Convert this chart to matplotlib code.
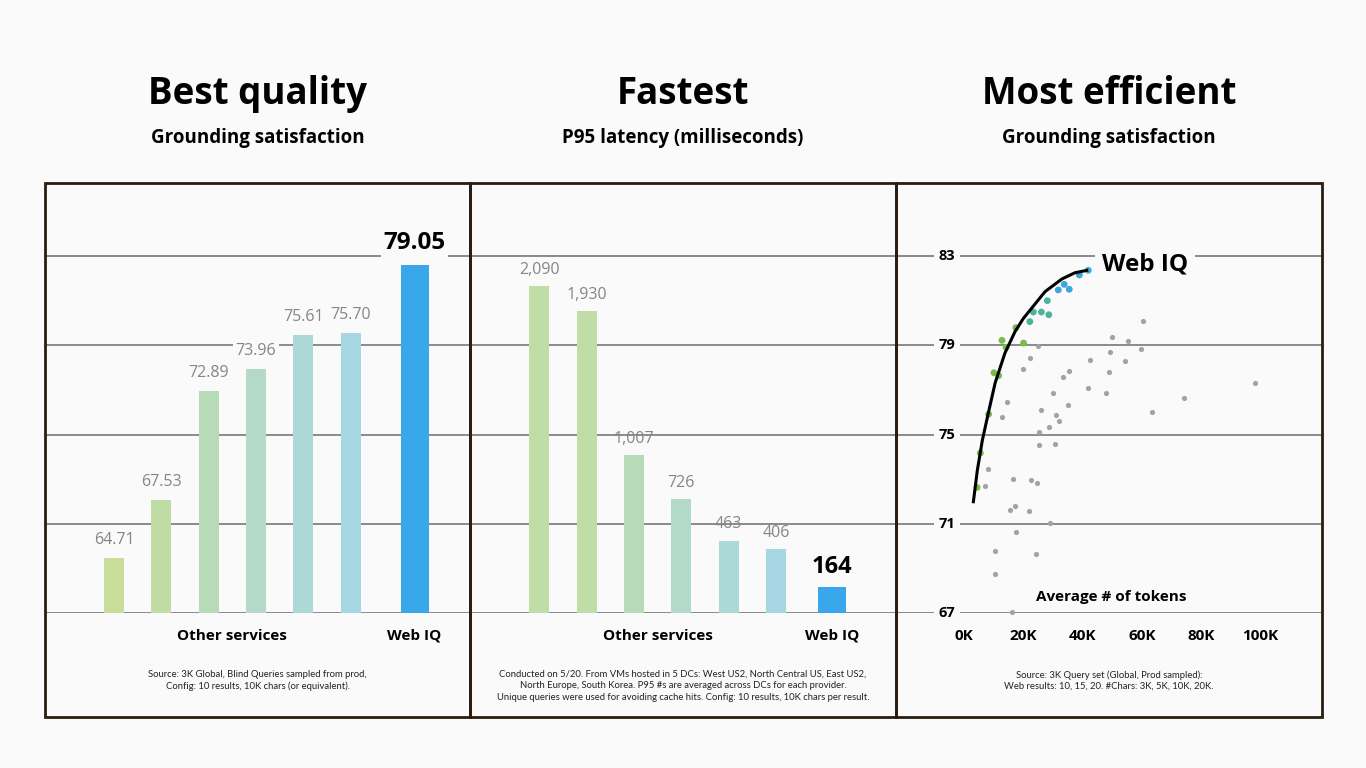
import matplotlib
matplotlib.use("Agg")
import matplotlib.pyplot as plt
from matplotlib.patches import Rectangle
import numpy as np

# ---------------- data ----------------
titles = ["Best quality", "Fastest", "Most efficient"]
subtitles = ["Grounding satisfaction", "P95 latency (milliseconds)", "Grounding satisfaction"]

quality_other = [64.71, 67.53, 72.89, 73.96, 75.61, 75.70]
quality_webiq = 79.05
quality_colors = ["#c8dd9a", "#bfdca5", "#b7dbb8", "#b3d9c8", "#acd8d5", "#a8d7e4"]

latency_other = [2090, 1930, 1007, 726, 463, 406]
latency_webiq = 164
latency_colors = ["#c0dda8", "#c0dda8", "#b7dbb8", "#b3d9c8", "#acd8d5", "#a8d7e4"]
webiq_color = "#38a8ea"

# efficiency scatter: other configurations (K tokens, satisfaction)
other_x = [60.5, 49.8, 55.4, 49.2, 59.6, 25.1, 22.4, 42.6, 54.3, 20.0, 35.5, 49.0, 33.3,
           98.1, 41.9, 30.0, 48.0, 14.6, 74.3, 35.0, 63.3, 26.1, 12.9, 31.1, 32.1, 28.6,
           25.2, 25.3, 30.6, 8.1, 7.1, 16.5, 22.5, 24.5, 15.6, 17.3, 21.8, 29.1, 17.4,
           10.6, 24.4, 10.4, 16.1]
other_y = [80.10, 79.38, 79.19, 78.70, 78.83, 78.95, 78.44, 78.34, 78.31, 77.94, 77.85,
           77.80, 77.58, 77.31, 77.10, 76.86, 76.85, 76.47, 76.62, 76.34, 76.01, 76.10,
           75.80, 75.86, 75.59, 75.32, 75.13, 74.52, 74.57, 73.44, 72.68, 72.99, 72.95,
           72.81, 71.62, 71.80, 71.57, 71.05, 70.62, 69.79, 69.66, 68.76, 67.06]
# Web IQ configurations
webiq_x = [4.4, 5.5, 8.3, 10.1, 11.7, 12.8, 14.2, 17.5, 20.1,
           22.2, 23.4, 26.1, 28.6, 28.1,
           31.8, 33.8, 35.5, 38.9, 41.9]
webiq_y = [72.63, 74.17, 75.91, 77.77, 77.64, 79.22, 78.91, 79.79, 79.10,
           80.06, 80.49, 80.49, 80.37, 81.00,
           81.48, 81.73, 81.51, 82.15, 82.36]
webiq_dot_colors = ["#78bb4a"] * 9 + ["#4db39a"] * 5 + ["#3aa8dc"] * 5
# frontier curve
curve_x = [3.1, 4.5, 6.2, 8.2, 10.5, 13.8, 17.2, 20.0, 22.8, 27.3, 33.0, 37.4, 41.9]
curve_y = [71.92, 73.40, 74.75, 75.96, 77.31, 78.65, 79.61, 80.20, 80.66, 81.40, 81.97, 82.25, 82.37]
eff_yticks = [67, 71, 75, 79, 83]
eff_xticks = [0, 20, 40, 60, 80, 100]

footnotes = [
    "Source: 3K Global, Blind Queries sampled from prod,\nConfig: 10 results, 10K chars (or equivalent).",
    "Conducted on 5/20. From VMs hosted in 5 DCs: West US2, North Central US, East US2,\n"
    "North Europe, South Korea. P95 #s are averaged across DCs for each provider.\n"
    "Unique queries were used for avoiding cache hits. Config: 10 results, 10K chars per result.",
    "Source: 3K Query set (Global, Prod sampled):\nWeb results: 10, 15, 20. #Chars: 3K, 5K, 10K, 20K.",
]

# ---------------- style ----------------
BG = "#fafafa"
GRID = "#8a8a8a"
FRAME = "#2b1c10"
BOLD = ["Open Sans", "DejaVu Sans"]
plt.rcParams["font.family"] = ["Lato", "DejaVu Sans"]

W, H = 1366, 768
fig = plt.figure(figsize=(W / 100, H / 100), dpi=100, facecolor=BG)

def fx(px):
    return px / W

def fy(py):
    return 1 - py / H

panel_left = [45, 470, 896]
panel_right = [470, 896, 1322]
top_px, base_px, bottom_px = 183, 613, 717
grid_px = [613, 524, 435, 345, 256]

# frame
for l, r in zip(panel_left, panel_right):
    fig.patches.append(Rectangle((fx(l), fy(bottom_px)), fx(r - l), (bottom_px - top_px) / H,
                                 transform=fig.transFigure, fill=False, edgecolor=FRAME,
                                 linewidth=2.0, zorder=10))

axes = []
for l, r in zip(panel_left, panel_right):
    ax = fig.add_axes([fx(l), fy(base_px), fx(r - l), (base_px - top_px) / H])
    ax.set_facecolor("none")
    for s in ax.spines.values():
        s.set_visible(False)
    ax.set_xticks([])
    ax.set_yticks([])
    axes.append(ax)

# titles
for i, (l, r) in enumerate(zip(panel_left, panel_right)):
    cx = fx((l + r) / 2)
    fig.text(cx, fy(94), titles[i], ha="center", va="center", fontsize=26.5,
             fontweight="bold", family=BOLD, color="#000000")
    fig.text(cx, fy(137.5), subtitles[i], ha="center", va="center", fontsize=13.5,
             fontweight="bold", family=BOLD, color="#000000")
    fig.text(cx, fy(670), footnotes[i], ha="center", va="top", fontsize=6.8,
             color="#222222", linespacing=1.35)

XPX = 47.3  # pixels per bar step
LBL = -23 / (base_px - top_px)

# ---- panel 1: quality ----
ax = axes[0]
q_scale = 20.43  # px per unit
q_base = 62.0
ax.set_xlim(0, 425 / XPX)
ax.set_ylim(q_base, q_base + (base_px - top_px) / q_scale)
for g in grid_px:
    ax.axhline(q_base + (base_px - g) / q_scale, color=GRID, lw=1.4, zorder=0)
pos = 69 / XPX + np.arange(len(quality_other))
web_pos1 = pos[-1] + 64 / XPX
ax.bar(pos, np.array(quality_other) - q_base, bottom=q_base, width=20 / XPX,
       color=quality_colors, zorder=2)
ax.bar([web_pos1], [quality_webiq - q_base], bottom=q_base, width=28 / XPX,
       color=webiq_color, zorder=2)
for p, v in zip(pos, quality_other):
    ax.annotate(f"{v:.2f}", (p, v), xytext=(0, 7), textcoords="offset points",
                ha="center", va="bottom", fontsize=11.5, color="#858585",
                family="Open Sans",
                bbox=dict(boxstyle="square,pad=0.15", fc=BG, ec="none"), zorder=3)
ax.annotate(f"{quality_webiq:.2f}", (web_pos1, quality_webiq), xytext=(0, 7),
            textcoords="offset points", ha="center", va="bottom", fontsize=17.5,
            fontweight="bold", family=BOLD, color="#000000",
            bbox=dict(boxstyle="square,pad=0.12", fc=BG, ec="none"), zorder=3)

# ---- panel 2: latency ----
ax = axes[1]
l_scale = 0.1565
ax.set_xlim(0, 425 / XPX)
ax.set_ylim(0, (base_px - top_px) / l_scale)
for g in grid_px:
    ax.axhline((base_px - g) / l_scale, color=GRID, lw=1.4, zorder=0)
pos2 = 69 / XPX + np.arange(len(latency_other))
web_pos2 = pos2[-1] + 56 / XPX
ax.bar(pos2, latency_other, width=20 / XPX, color=latency_colors, zorder=2)
ax.bar([web_pos2], [latency_webiq], width=28 / XPX, color=webiq_color, zorder=2)
for p, v in zip(pos2, latency_other):
    ax.annotate(f"{v:,}", (p, v), xytext=(0, 6), textcoords="offset points",
                ha="center", va="bottom", fontsize=11.5, color="#858585",
                family="Open Sans", zorder=1)
ax.annotate(f"{latency_webiq}", (web_pos2, latency_webiq), xytext=(0, 6),
            textcoords="offset points", ha="center", va="bottom", fontsize=17,
            fontweight="bold", family=BOLD, color="#000000", zorder=3)

# category labels for bar panels
for ax, p, wp in [(axes[0], pos, web_pos1), (axes[1], pos2, web_pos2)]:
    trans = ax.get_xaxis_transform()
    ax.text((p[0] + p[-1]) / 2, LBL, "Other services", transform=trans, ha="center",
            va="center", fontsize=11, fontweight="bold", family=BOLD)
    ax.text(wp, LBL, "Web IQ", transform=trans, ha="center", va="center",
            fontsize=11, fontweight="bold", family=BOLD)

# ---- panel 3: efficiency ----
ax = axes[2]
x_scale = 2.965   # px per K
y_scale = 22.31   # px per unit
ax.set_xlim(-68 / x_scale, (1322 - 964) / x_scale)
ax.set_ylim(67, 67 + (base_px - top_px) / y_scale)
for yt in eff_yticks:
    ax.axhline(yt, color=GRID, lw=1.4, zorder=0)
    ax.text(-17 / x_scale, yt, str(yt), ha="center", va="center", fontsize=10.5,
            fontweight="bold", family=BOLD,
            bbox=dict(boxstyle="square,pad=0.3", fc=BG, ec="none"), zorder=1)
ax.scatter(other_x, other_y, s=14, color="#a3a3a3", linewidths=0, zorder=2, clip_on=False)
ax.scatter(webiq_x, webiq_y, s=24, c=webiq_dot_colors, linewidths=0, zorder=3)
ax.plot(curve_x, curve_y, color="#000000", lw=2.2, zorder=4, solid_capstyle="butt")
ax.text(61, 82.6, "Web IQ", ha="center", va="center", fontsize=17.5,
        fontweight="bold", family=BOLD,
        bbox=dict(boxstyle="square,pad=0.3", fc=BG, ec="none"), zorder=5)
trans = ax.get_xaxis_transform()
for xt in eff_xticks:
    ax.text(xt, LBL, f"{xt}K", transform=trans, ha="center", va="center",
            fontsize=11, fontweight="bold", family=BOLD)
ax.text(49.6, 67.7, "Average # of tokens", ha="center", va="center", fontsize=11,
        fontweight="bold", family=BOLD)

fig.savefig("out.png", dpi=100, facecolor=BG)
